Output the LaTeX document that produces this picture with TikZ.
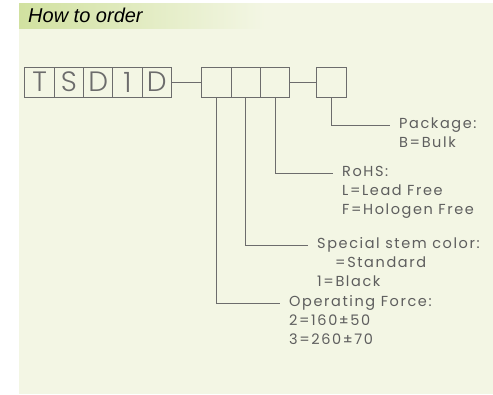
\documentclass[tikz,border=0pt]{standalone}
\usepackage{fontspec}
\setmainfont{Liberation Sans}
\newfontfamily\cadfont{Poppins}[LetterSpace=11.0]
\newfontfamily\boxfont{Poppins Light}
\usetikzlibrary{positioning}
\definecolor{cream}{HTML}{F3F6E4}
\definecolor{bandgreen}{HTML}{D1E1A0}
\definecolor{wiregray}{HTML}{6C6C6C}
\definecolor{textgray}{HTML}{5E5E5E}

\begin{document}
\begin{tikzpicture}[x=1pt, y=1pt,
    cell/.style = {rectangle, draw=wiregray, line width=1pt, minimum width=29.3pt, minimum height=30pt, inner sep=0pt, outer sep=0pt, text=wiregray, font=\boxfont\fontsize{28}{28}\selectfont},
    wire/.style = {draw=wiregray, line width=1pt},
    lbl/.style = {inner xsep=9pt, inner ysep=0pt, text height=10pt, text depth=3pt, anchor=west, text=textgray, font=\cadfont\fontsize{14.5}{19}\selectfont},
    vals/.style = {inner xsep=9pt, inner ysep=0pt, anchor=north west, align=left, text=textgray, font=\cadfont\fontsize{14.5}{19}\selectfont}
]

% Page and title band
\useasboundingbox (0,0) rectangle (493,-394);
\fill[white] (0,0) rectangle (493,-394);
\fill[cream] (19,-3) rectangle (493,-394);
\shade[left color=bandgreen, right color=cream] (19,-3) rectangle (265,-28);
\node (title) [anchor=west, inner sep=0pt, font=\itshape\fontsize{20}{24}\selectfont] at (28,-15) {How to order};

% Code cells
\node (t) [cell] at (39.6,-82) {T};
\node (s) [cell, right=0pt of t] {S};
\node (d1) [cell, right=0pt of s] {D};
\node (one) [cell, right=0pt of d1] {1};
\node (d2) [cell, right=0pt of one] {D};
\node (f1) [cell] at (216.6,-82) {};
\node (f2) [cell, right=0pt of f1] {};
\node (f3) [cell, right=0pt of f2] {};
\node (pkg) [cell] at (331.6,-82) {};

\draw [wire] (d2) -- (f1);
\draw [wire] (f3) -- (pkg);

% Labels
\node (pkglbl) [lbl] at (390,-125) {Package:};
\node (pkgval) [vals, below=5pt of pkglbl.south west, anchor=north west] {B=Bulk};
\node (rohslbl) [lbl] at (333,-173) {RoHS:};
\node (rohsval) [vals, below=5pt of rohslbl.south west, anchor=north west] {L=Lead Free\\F=Hologen Free};
\node (stemlbl) [lbl] at (308,-245) {Special stem color:};
\node (stemval) [vals, below=5pt of stemlbl.south west, anchor=north west] {\hspace*{18pt}=Standard\\1=Black};
\node (forcelbl) [lbl] at (280,-303) {Operating Force:};
\node (forceval) [vals, below=5pt of forcelbl.south west, anchor=north west] {2=160±50\\3=260±70};

% Leaders
\draw [wire] (pkg.south) |- (pkglbl.west);
\draw [wire] (f3.south) |- (rohslbl.west);
\draw [wire] (f2.south) |- (stemlbl.west);
\draw [wire] (f1.south) |- (forcelbl.west);

\end{tikzpicture}
\end{document}
